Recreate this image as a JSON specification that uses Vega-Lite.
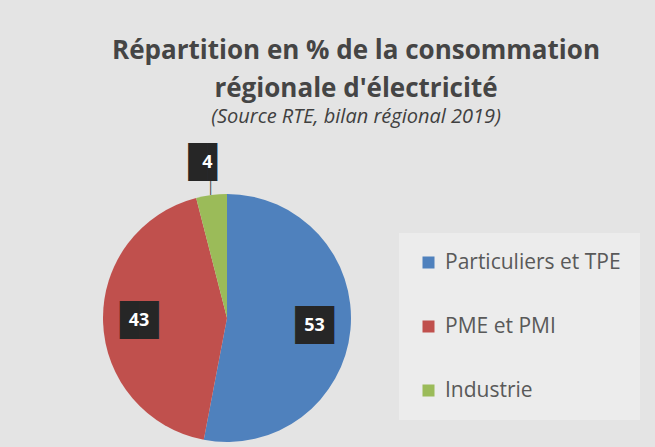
{
  "$schema": "https://vega.github.io/schema/vega-lite/v6.json",
  "width": 248,
  "height": 248,
  "autosize": {"type": "none"},
  "padding": {"left": 103, "top": 194, "right": 304, "bottom": 5},
  "background": "#e4e4e4",
  "title": {
    "text": ["Répartition en % de la consommation", "régionale d'électricité"],
    "subtitle": "(Source RTE, bilan régional 2019)",
    "anchor": "middle",
    "dx": 129,
    "offset": 20,
    "font": "Open Sans",
    "fontSize": 26,
    "fontWeight": "bold",
    "color": "#454545",
    "lineHeight": 38,
    "subtitleFont": "Open Sans",
    "subtitleFontSize": 20,
    "subtitleFontStyle": "italic",
    "subtitleColor": "#404040",
    "subtitlePadding": 5
  },
  "data": {
    "values": [
      {"categorie": "Particuliers et TPE", "part": 53, "ordre": 1},
      {"categorie": "PME et PMI", "part": 43, "ordre": 2},
      {"categorie": "Industrie", "part": 4, "ordre": 3}
    ]
  },
  "transform": [
    {"calculate": "datum.part < 10 ? '█▌' : '██'", "as": "boite"},
    {"calculate": "datum.part < 10 ? '│' : ''", "as": "trait"}
  ],
  "encoding": {
    "theta": {"field": "part", "type": "quantitative", "stack": true},
    "order": {"field": "ordre", "type": "quantitative"},
    "detail": {"field": "categorie", "type": "nominal"}
  },
  "layer": [
    {
      "mark": {"type": "arc", "outerRadius": 124},
      "encoding": {
        "color": {
          "field": "categorie",
          "type": "nominal",
          "sort": ["Particuliers et TPE", "PME et PMI", "Industrie"],
          "scale": {
            "domain": ["Particuliers et TPE", "PME et PMI", "Industrie"],
            "range": ["#4f81bd", "#c0504d", "#9bbb59"]
          },
          "legend": {
            "orient": "none",
            "legendX": 296,
            "legendY": 39,
            "title": null,
            "symbolType": "square",
            "symbolSize": 144,
            "symbolStrokeWidth": 0,
            "labelFont": "Open Sans",
            "labelFontSize": 21,
            "labelColor": "#595959",
            "rowPadding": 42,
            "fillColor": "#ececec",
            "padding": 19,
            "labelOffset": 6,
            "labelLimit": 300
          }
        }
      }
    },
    {
      "mark": {"type": "text", "radius": 131, "font": "DejaVu Sans Mono", "fontSize": 12, "color": "#404040", "baseline": "middle"},
      "encoding": {"text": {"field": "trait", "type": "nominal"}}
    },
    {
      "mark": {"type": "text", "radius": {"expr": "datum.part < 10 ? 156 : 88"}, "font": "DejaVu Sans Mono", "fontSize": 32, "color": "#262626", "baseline": "middle"},
      "encoding": {"text": {"field": "boite", "type": "nominal"}}
    },
    {
      "mark": {"type": "text", "radius": {"expr": "datum.part < 10 ? 156 : 88"}, "font": "Open Sans", "fontSize": 18, "fontWeight": "bold", "color": "#ffffff", "baseline": "middle"},
      "encoding": {"text": {"field": "part", "type": "quantitative"}}
    }
  ]
}
